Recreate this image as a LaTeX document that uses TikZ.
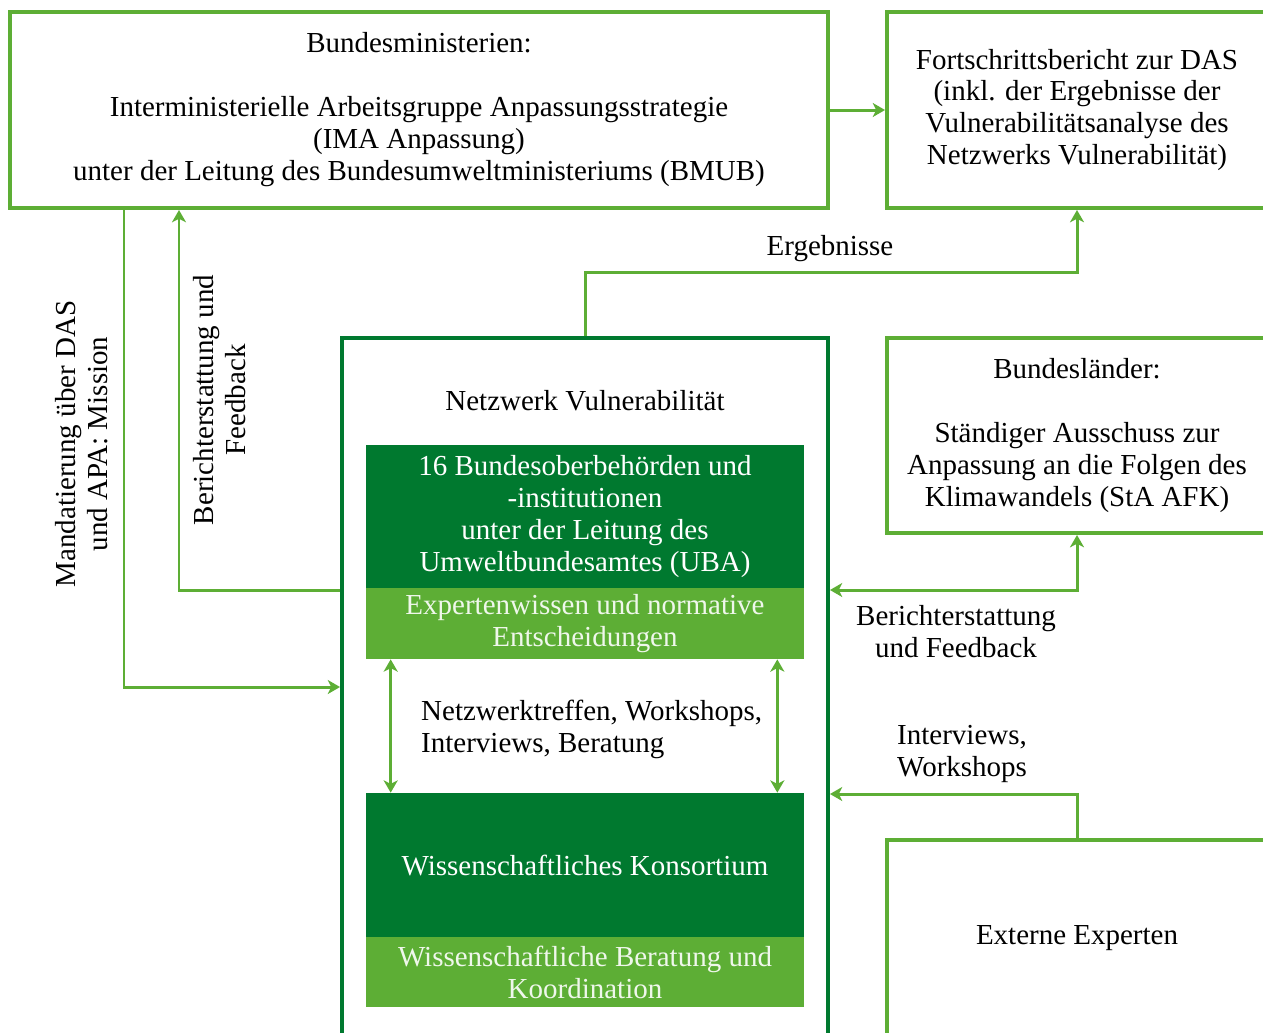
\documentclass[tikz,border=0pt]{standalone}
\usepackage{fontspec}
\setmainfont{Liberation Serif}
\usetikzlibrary{arrows.meta}
\definecolor{lgreen}{HTML}{5DAE35}
\definecolor{dgreen}{HTML}{00792F}
\tikzset{
  box/.style={draw=lgreen,line width=2.3pt,align=center,inner sep=0pt},
  dbox/.style={fill=dgreen,text=white,align=center,inner sep=0pt,minimum width=8.76cm},
  lbox/.style={fill=lgreen,text=white!90!lgreen,align=center,inner sep=0pt,minimum width=8.76cm},
  conn/.style={draw=lgreen,line width=1.7pt,-{Stealth[length=7pt,width=8pt,inset=2pt]}},
  conn2/.style={conn,{Stealth[length=7pt,width=8pt,inset=2pt]}-{Stealth[length=7pt,width=8pt,inset=2pt]}}
}
\begin{document}
\begin{tikzpicture}[x=0.02cm,y=-0.02cm,every node/.style={font=\fontsize{16.5}{18.2}\selectfont}]
\useasboundingbox (0,0) rectangle (1263,1032);
% outer boxes
\node[box,minimum width=16.36cm,minimum height=3.92cm] (bmin) at (419,110)
  {Bundesministerien:\\[0.64cm]Interministerielle Arbeitsgruppe Anpassungsstrategie\\(IMA Anpassung)\\unter der Leitung des Bundesumweltministeriums (BMUB)};
\node[box,minimum width=7.6cm,minimum height=3.92cm] (fort) at (1077,110)
  {Fortschrittsbericht zur DAS\\(inkl. der Ergebnisse der\\Vulnerabilitätsanalyse des\\Netzwerks Vulnerabilität)};
\node[box,draw=dgreen,minimum width=9.72cm,minimum height=14.04cm] (netz) at (585,689) {};
\node (netzlab) at (585,401) {Netzwerk Vulnerabilität};
\node[box,minimum width=7.6cm,minimum height=3.9cm] (laender) at (1077,435.5)
  {Bundesländer:\\[0.64cm]Ständiger Ausschuss zur\\Anpassung an die Folgen des\\Klimawandels (StA AFK)};
\node[box,minimum width=7.6cm,minimum height=3.92cm] (extern) at (1077,938) {Externe Experten};
% inner boxes
\node[dbox,minimum height=2.86cm] (uba) at (585,516.5)
  {16 Bundesoberbehörden und\\-institutionen\\unter der Leitung des\\Umweltbundesamtes (UBA)};
\node[lbox,minimum height=1.42cm] (expert) at (585,623.5)
  {Expertenwissen und normative\\Entscheidungen};
\node[dbox,minimum height=2.88cm] (kons) at (585,865) {Wissenschaftliches Konsortium};
\node[lbox,minimum height=1.4cm] (berat) at (585,972)
  {Wissenschaftliche Beratung und\\Koordination};
% corners of the connectors
\coordinate (erg) at (830,272);
\coordinate (mand) at (124,687);
\coordinate (ber) at (179,590);
\coordinate (bl) at (1077,590);
\coordinate (ex) at (1077,794);
% connectors
\draw[conn] (bmin.east) -- (fort.west);
\draw[conn] (netz.north) |- (erg) -| (fort.south);
\draw[conn] (bmin.south -| mand) -- (mand) -- (mand -| netz.west);
\draw[conn] (netz.west |- ber) -- (ber) -- (ber |- bmin.south);
\draw[conn2] (netz.east |- bl) -- (bl) -- (laender.south);
\draw[conn] (extern.north) -- (ex) -- (ex -| netz.east);
\draw[conn2] ([xshift=0.5cm]expert.south west) -- ([xshift=0.5cm]kons.north west);
\draw[conn2] ([xshift=-0.54cm]expert.south east) -- ([xshift=-0.54cm]kons.north east);
% labels
\node (erglab) at (830,249) {Ergebnisse};
\node[rotate=90,align=center] (mandlab) at (82,444) {Mandatierung über DAS\\und APA: Mission};
\node[rotate=90,align=center] (berlab) at (220,400) {Berichterstattung und\\Feedback};
\node[align=center] (bllab) at (956,632) {Berichterstattung\\und Feedback};
\node[align=left,anchor=west] (exlab) at (891,754) {Interviews,\\Workshops};
\node[align=left,anchor=west] (treflab) at (415,729) {Netzwerktreffen, Workshops,\\Interviews, Beratung};
\end{tikzpicture}
\end{document}
